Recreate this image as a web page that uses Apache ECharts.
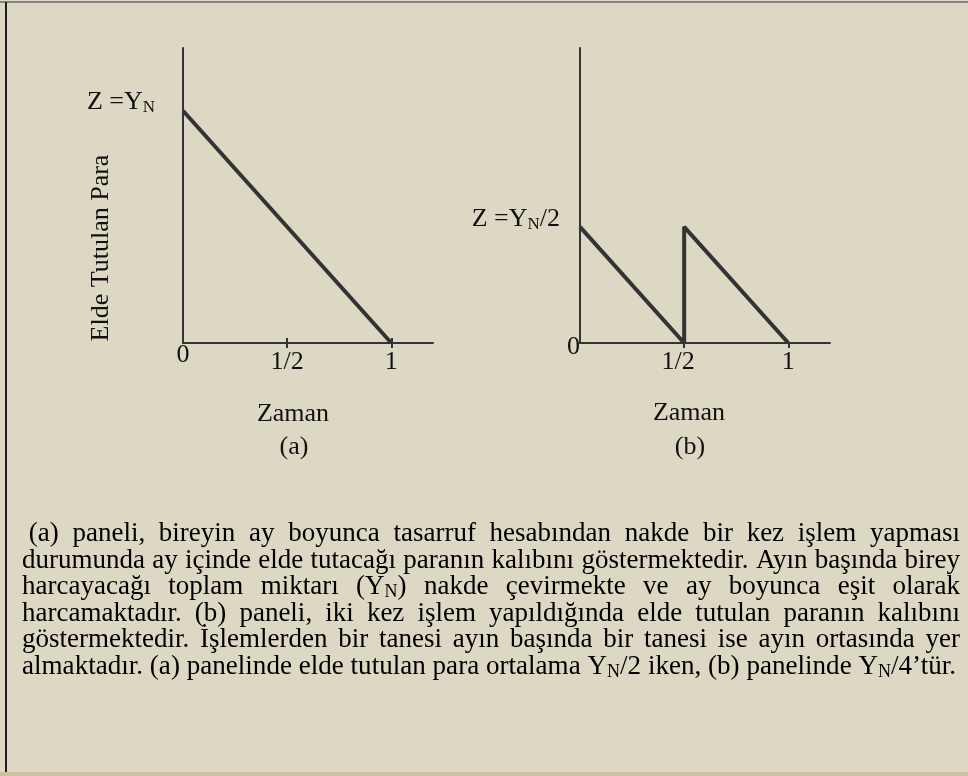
<!DOCTYPE html>
<html>
<head>
<meta charset="utf-8">
<script src="https://cdn.jsdelivr.net/npm/echarts@6.0.0/dist/echarts.min.js"></script>
<style>
  html, body { margin: 0; padding: 0; background: #DDD8C3; }
  #chart { width: 968px; height: 776px; }
</style>
</head>
<body>
<div id="chart"></div>
<script>
// Panel (a): a single withdrawal at the start of the month
const timeA = [0, 1];
const cashA = [1, 0];
// Panel (b): two withdrawals, at the start and in the middle of the month
const timeB = [0, 0.5, 0.5, 1];
const cashB = [0.5, 0, 0.5, 0];

// Time axis ticks and their labels
const timeTicks = [0, 0.5, 1];
const timeTickLabels = ['0', '1/2', '1'];

// Cash levels labelled on the vertical axes ("_N" marks a subscript N)
const levelsA = [1];
const levelLabelsA = ['Z =Y_N'];
const levelsB = [0, 0.5];
const levelLabelsB = ['0', 'Z =Y_N/2'];

const titleX = 'Zaman';
const titleY = 'Elde Tutulan Para';
const panelTags = ['(a)', '(b)'];

// Caption, one entry per printed line
const captionLines = [
  ' (a) paneli, bireyin ay boyunca tasarruf hesabından nakde bir kez işlem yapması',
  'durumunda ay içinde elde tutacağı paranın kalıbını göstermektedir. Ayın başında birey',
  'harcayacağı toplam miktarı (Y_N) nakde çevirmekte ve ay boyunca eşit olarak',
  'harcamaktadır. (b) paneli, iki kez işlem yapıldığında elde tutulan paranın kalıbını',
  'göstermektedir. İşlemlerden bir tanesi ayın başında bir tanesi ise ayın ortasında yer',
  'almaktadır. (a) panelinde elde tutulan para ortalama Y_N/2 iken, (b) panelinde Y_N/4’tür.'
];

const fam = '"Liberation Serif", "Times New Roman", serif';
const ink = '#111111';
const lineInk = '#333333';

function pair(xs, ys) { return xs.map((x, i) => [x, ys[i]]); }
function lookup(values, labels, v) {
  const i = values.findIndex(t => Math.abs(t - v) < 1e-9);
  return i < 0 ? '' : labels[i];
}
// Turn "Y_N" markup into rich text tokens
function richLabel(str, mainStyle) {
  const parts = str.split('_N');
  let out = '';
  parts.forEach((p, i) => {
    if (p) out += '{' + mainStyle + '|' + p + '}';
    if (i < parts.length - 1) out += '{s|N}';
  });
  return out;
}

const levelRich = {
  m: { fontSize: 26, fontFamily: fam, color: ink, lineHeight: 28 },
  s: { fontSize: 17, fontFamily: fam, color: ink, lineHeight: 19, verticalAlign: 'bottom' }
};

const axisLine = { show: true, onZero: false, lineStyle: { color: lineInk, width: 2 } };
const tickStyle = { color: lineInk, width: 2 };

function timeAxis(grid, tickVals, labelVals, richExtra, mapLabel) {
  return {
    type: 'value', gridIndex: grid, min: 0, max: 1.2, position: 'bottom',
    axisLine: axisLine,
    axisTick: { show: true, customValues: tickVals, length: 5, lineStyle: tickStyle },
    axisLabel: {
      customValues: labelVals, margin: 5,
      formatter: mapLabel,
      rich: Object.assign({
        n: { fontSize: 26, fontFamily: fam, color: ink, lineHeight: 28 },
        z: { fontSize: 26, fontFamily: fam, color: ink, lineHeight: 14 }
      }, richExtra)
    },
    splitLine: { show: false }
  };
}

const xAxes = [
  timeAxis(0, [0.5, 1], timeTicks, {}, v => {
    const t = lookup(timeTicks, timeTickLabels, v);
    return v === 0 ? '{z|' + t + '}' : '{n|' + t + '}';
  }),
  timeAxis(1, [0.5, 1], timeTicks.filter(v => v > 0),
    { h: { fontSize: 26, fontFamily: fam, color: ink, lineHeight: 28, padding: [0, 12, 0, 0] } },
    v => {
      const t = lookup(timeTicks, timeTickLabels, v);
      return v === 0.5 ? '{h|' + t + '}' : '{n|' + t + '}';
    }),
  // upper half of the crossing ticks in panel (a)
  {
    type: 'value', gridIndex: 0, min: 0, max: 1.2, position: 'bottom',
    axisLine: { show: false, onZero: false },
    axisTick: { show: true, inside: true, customValues: [0.5, 1], length: 5, lineStyle: tickStyle },
    axisLabel: { show: false },
    splitLine: { show: false }
  }
];

function levelAxis(grid, values, labels, showLine, margin, padding) {
  return {
    type: 'value', gridIndex: grid, min: 0, max: 1.27, position: 'left',
    axisLine: showLine ? axisLine : { show: false },
    axisTick: { show: false }, splitLine: { show: false },
    axisLabel: {
      customValues: values, margin: margin, padding: padding,
      formatter: v => richLabel(lookup(values, labels, v), 'm'),
      rich: levelRich
    }
  };
}

const yAxes = [
  levelAxis(0, levelsA, levelLabelsA, true, 28, [0, 0, 17, 0]),
  levelAxis(1, levelsB.slice(0, 1), levelLabelsB.slice(0, 1), true, 0, [9, 0, 0, 0]),
  levelAxis(1, levelsB.slice(1), levelLabelsB.slice(1), false, 20, [0, 0, 16, 0])
];

const pathStyle = { color: lineInk, width: 4, join: 'miter', miterLimit: 2, cap: 'butt' };

// Caption layout: justified lines built word by word
const measureCtx = document.createElement('canvas').getContext('2d');
function textWidth(s, size) {
  measureCtx.font = size + 'px ' + fam;
  return measureCtx.measureText(s).width;
}
const capSize = 27, capSub = 18;
function wordWidth(w) {
  const parts = w.split('_N');
  let width = 0;
  parts.forEach(p => { width += textWidth(p, capSize); });
  width += (parts.length - 1) * textWidth('N', capSub);
  return width;
}
const capRich = {
  t: { fontSize: capSize, fontFamily: fam, color: ink, lineHeight: 28 },
  s: { fontSize: capSub, fontFamily: fam, color: ink, lineHeight: 20, verticalAlign: 'bottom' }
};
const capLeft = 22, capRight = 960, lastRight = 956, capTop = 534, capStep = 26.6;
const spaceW = textWidth(' ', capSize);

const captionGroups = captionLines.map((line, i) => {
  const lead = line.length - line.replace(/^\s+/, '').length;
  const indent = lead * spaceW;
  const words = line.trim().split(/\s+/);
  const widths = words.map(wordWidth);
  const sumW = widths.reduce((a, b) => a + b, 0);
  const isLast = i === captionLines.length - 1;
  const avail = (isLast ? lastRight : capRight) - capLeft - indent;
  const natural = sumW + (words.length - 1) * spaceW;
  let scale = 1, gap = spaceW;
  if (isLast || natural > avail) scale = avail / natural;
  else if (words.length > 1) gap = (avail - sumW) / (words.length - 1);
  let x = 0;
  const children = words.map((w, k) => {
    const el = {
      type: 'text', x: x, y: 0,
      style: { text: richLabel(w, 't'), rich: capRich, align: 'left', verticalAlign: 'middle' }
    };
    x += widths[k] + gap;
    return el;
  });
  return { type: 'group', x: capLeft + indent, y: capTop + i * capStep, scaleX: scale, children: children };
});

function label(text, x, y, rotation) {
  return {
    type: 'text', x: x, y: y, rotation: rotation || 0,
    style: { text: text, fontSize: 26, fontFamily: fam, fill: ink, align: 'center', verticalAlign: 'middle' }
  };
}

const chart = echarts.init(document.getElementById('chart'), null, { renderer: 'canvas' });
chart.setOption({
  backgroundColor: '#DDD8C3',
  animation: false,
  grid: [
    { left: 183, top: 48, width: 250, height: 295 },
    { left: 580, top: 48, width: 250, height: 295 }
  ],
  xAxis: xAxes,
  yAxis: yAxes,
  series: [
    { type: 'line', xAxisIndex: 0, yAxisIndex: 0, data: pair(timeA, cashA), showSymbol: false, clip: false, lineStyle: pathStyle },
    { type: 'line', xAxisIndex: 1, yAxisIndex: 1, data: pair(timeB, cashB), showSymbol: false, clip: false, lineStyle: pathStyle }
  ],
  graphic: [
    { type: 'rect', shape: { x: 0, y: 1, width: 968, height: 2 }, style: { fill: '#858585' } },
    { type: 'rect', shape: { x: 5, y: 2, width: 2, height: 771 }, style: { fill: '#1e1e1e' } },
    { type: 'rect', shape: { x: 0, y: 772, width: 968, height: 4 }, style: { fill: '#C9C1A1' } },
    label(titleY, 101, 248, Math.PI / 2),
    label(titleX, 293, 414.5),
    label(panelTags[0], 294, 447),
    label(titleX, 689, 413.5),
    label(panelTags[1], 690, 447)
  ].concat(captionGroups)
});
</script>
</body>
</html>
